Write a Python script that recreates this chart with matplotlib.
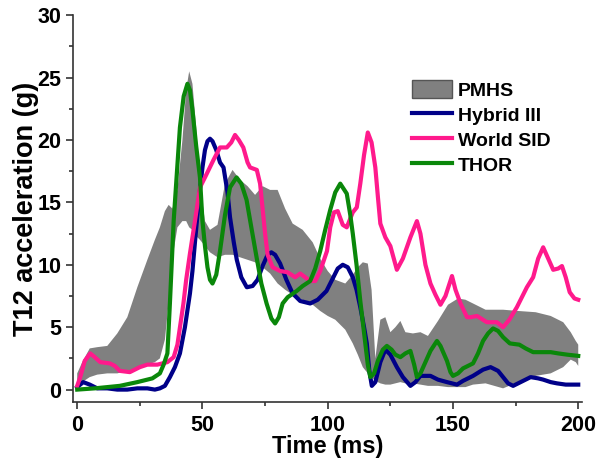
import numpy as np
import matplotlib
matplotlib.use("Agg")
import matplotlib.pyplot as plt
from matplotlib.ticker import MultipleLocator

plt.rcParams['font.family'] = ['Liberation Sans', 'DejaVu Sans']
plt.rcParams['font.weight'] = 'bold'

# PMHS corridor (upper / lower bound of the gray band)
pmhs_t = [0, 2, 5, 8, 12, 16, 20, 24, 28, 31, 33, 35, 36.5, 38, 40, 42, 43.5, 44.7,
          46, 47.5, 49, 51, 53, 56, 59, 62, 65, 68, 71, 74, 77, 80, 83, 86, 90, 94,
          97, 100, 103, 107, 110, 112, 114, 116, 117.5, 119, 121, 123, 125, 127, 129,
          131, 134, 137, 140, 144, 148, 152, 155, 158, 163, 170, 176, 183, 189, 194,
          197, 199, 200]
pmhs_upper = [1.3, 2.2, 3.3, 3.4, 3.5, 4.5, 5.8, 8.2, 10.4, 12.0, 13.0, 14.3, 14.8, 14.5,
              16.0, 20.0, 24.0, 25.5, 24.5, 21.0, 16.5, 13.5, 12.8, 13.2, 16.5, 17.6,
              16.8, 16.3, 15.6, 16.3, 16.0, 16.0, 14.5, 13.3, 12.8, 11.8, 10.5, 9.5,
              8.8, 8.5, 9.2, 9.8, 10.2, 10.1, 8.0, 2.5, 5.6, 5.8, 4.6, 5.0, 5.5, 4.6,
              4.5, 4.6, 4.3, 5.5, 6.8, 7.3, 7.2, 6.9, 6.4, 6.4, 6.3, 6.2, 5.9, 5.4,
              4.6, 3.9, 3.6]
pmhs_lower = [0.2, 0.6, 1.0, 1.2, 1.3, 1.3, 1.5, 1.7, 2.0, 2.2, 2.5, 4.0, 7.0, 10.5,
              13.0, 13.5, 13.5, 13.0, 12.8, 12.3, 12.0, 11.5, 11.0, 10.6, 10.8, 10.8,
              10.6, 10.4, 10.2, 9.8, 9.3, 8.5, 8.0, 7.6, 7.2, 6.8, 6.3, 5.9, 5.6, 4.8,
              3.7, 2.8, 1.8, 1.3, 1.0, 0.7, 0.5, 0.4, 0.4, 0.5, 0.6, 0.5, 0.5, 0.4,
              0.3, 0.3, 0.2, 0.2, 0.2, 0.4, 0.5, 0.1, 0.6, 1.1, 1.3, 1.8, 2.4, 2.2, 1.9]

# Hybrid III
h3_t = [0, 2.4, 5, 8, 12, 16, 20, 24, 28, 31, 33, 35, 37, 39, 41, 43, 45, 46, 47, 48,
        49, 50, 51, 52, 53, 54, 55.5, 57, 58.4, 60, 61, 62.5, 63.7, 65.5, 67.7, 70, 72,
        74, 76, 77.5, 79, 81, 83.5, 86, 89, 93, 96, 99.5, 102, 104, 106, 108, 110,
        111.5, 113, 114.5, 115.6, 116.6, 117.6, 119, 121, 123, 125, 127.6, 130, 133,
        135, 137, 141, 144, 147.6, 151.6, 154, 158, 162, 165, 168, 170, 172, 174,
        177, 181, 184, 186, 189, 191.5, 195, 200]
h3_g = [0.2, 0.6, 0.4, 0.1, 0.1, 0.0, 0.0, 0.1, 0.1, 0.0, 0.1, 0.3, 1.0, 1.8, 2.9,
        5.0, 7.7, 9.5, 11.8, 14.0, 16.0, 17.8, 19.2, 19.9, 20.1, 19.9, 19.2, 18.2,
        17.8, 15.8, 13.8, 11.8, 10.4, 9.0, 8.2, 8.3, 8.8, 9.9, 10.8, 11.0, 10.8,
        10.1, 8.8, 7.7, 7.1, 6.9, 7.2, 7.9, 8.9, 9.7, 10.0, 9.8, 9.0, 8.0, 6.6, 5.0,
        3.7, 1.5, 0.3, 0.6, 2.2, 3.2, 2.8, 1.8, 1.0, 0.3, 0.6, 1.1, 1.1, 0.8, 0.6,
        0.4, 0.7, 1.1, 1.6, 1.8, 1.5, 1.0, 0.5, 0.3, 0.6, 1.0, 0.9, 0.8, 0.6, 0.5,
        0.4, 0.4]

# World SID
wsid_t = [0, 1.2, 3, 5.2, 7, 9.2, 13, 15, 17, 21, 25, 28, 32, 36, 38.5, 40, 42.4,
          43.5, 45, 47, 49, 51, 54.4, 57, 59.7, 61.5, 63, 64.5, 66.3, 68, 69, 71.7,
          73, 74, 75, 76, 78, 81, 84, 87, 89, 91, 93, 95, 97, 99.7, 101, 102.5, 104,
          106, 107.6, 110, 111.6, 113, 114.5, 116, 117.5, 119, 120, 121, 123, 125,
          127.6, 130, 133, 135.6, 137, 139, 141, 143, 145, 147, 149.6, 151, 153,
          155.6, 157, 159.6, 163.5, 167.5, 170, 172.5, 175.5, 179.5, 182, 184, 186,
          188, 190, 192, 193.5, 195, 196.6, 198.5, 200]
wsid_g = [0.3, 1.0, 2.3, 2.9, 2.6, 2.2, 2.1, 1.9, 1.5, 1.4, 1.8, 2.0, 2.0, 2.2, 2.6,
          3.6, 6.9, 8.8, 10.9, 13.5, 16.2, 17.0, 18.4, 19.4, 19.4, 19.8, 20.4, 20.0,
          19.4, 18.2, 17.8, 17.6, 16.5, 14.5, 12.5, 10.8, 9.8, 9.5, 9.4, 9.0, 9.3,
          9.0, 8.7, 8.7, 9.5, 11.1, 13.0, 14.2, 14.3, 13.2, 13.0, 14.2, 14.6, 16.5,
          18.8, 20.6, 19.8, 17.8, 15.5, 13.3, 12.2, 11.5, 9.6, 10.5, 12.2, 13.5, 12.5,
          10.0, 8.5, 7.6, 6.8, 7.5, 9.1, 8.0, 6.9, 5.8, 5.8, 5.9, 5.4, 5.4, 5.0, 5.6,
          6.6, 8.2, 9.0, 10.5, 11.4, 10.5, 9.6, 9.7, 9.9, 9.0, 7.8, 7.3, 7.2]

# THOR
thor_t = [0, 7, 12, 17, 24, 30, 33, 34.5, 36, 37, 38.5, 40, 41, 42.5, 44, 45, 46,
          47.5, 49, 50, 51, 52, 53, 54, 55.5, 57, 59, 61, 63.6, 65.5, 67.6, 69.5,
          71.6, 73.5, 75.6, 77.5, 79, 80.5, 82, 84, 87.6, 90, 93, 95, 97, 99, 101,
          103, 105, 107.6, 109, 110, 111.5, 113, 115, 116, 117, 118.5, 120, 122,
          123.6, 125.5, 127, 129, 131, 133, 134.5, 135.6, 137, 139, 141, 143.6, 145,
          147.6, 149, 150, 152, 154, 156, 158, 160, 162, 164, 166, 168, 170, 172.7,
          176.5, 179, 182, 186, 189, 192, 195.6, 200]
thor_g = [0.0, 0.1, 0.2, 0.3, 0.6, 0.9, 1.3, 2.0, 2.9, 6.9, 13.5, 18.0, 21.0, 23.5,
          24.5, 24.0, 22.4, 19.5, 17.0, 13.5, 11.5, 9.8, 8.8, 8.5, 9.2, 11.1, 14.0,
          16.2, 17.0, 16.5, 15.2, 13.0, 10.6, 8.5, 6.9, 5.7, 5.3, 5.8, 6.9, 7.4, 7.9,
          8.3, 8.7, 9.7, 11.1, 12.8, 14.4, 15.8, 16.5, 15.7, 14.0, 12.5, 10.0, 7.1,
          3.7, 2.0, 1.0, 1.3, 2.3, 3.2, 3.5, 3.2, 2.8, 2.6, 2.9, 3.1, 2.0, 1.0, 1.3,
          2.2, 3.1, 3.9, 3.5, 2.3, 1.4, 1.1, 1.3, 1.7, 1.9, 2.1, 2.9, 3.9, 4.5, 4.9,
          4.7, 4.2, 3.7, 3.6, 3.3, 3.0, 3.0, 3.0, 2.9, 2.8, 2.7]

fig = plt.figure(figsize=(6, 4.59), dpi=100)
ax = fig.add_axes([0.122, 0.124, 0.848, 0.843])

ax.fill_between(pmhs_t, pmhs_lower, pmhs_upper, facecolor='#808080',
                edgecolor='none', label='PMHS', zorder=1)
ax.plot(h3_t, h3_g, color='#000088', lw=3, solid_joinstyle='round', label='Hybrid III', zorder=2)
ax.plot(wsid_t, wsid_g, color='#ff1a8c', lw=3, solid_joinstyle='round', label='World SID', zorder=3)
ax.plot(thor_t, thor_g, color='#0a870a', lw=3, solid_joinstyle='round', label='THOR', zorder=4)

ax.set_xlim(-1.6, 201.5)
ax.set_ylim(-1.0, 30)
ax.xaxis.set_major_locator(MultipleLocator(50))
ax.xaxis.set_minor_locator(MultipleLocator(25))
ax.yaxis.set_major_locator(MultipleLocator(5))
ax.yaxis.set_minor_locator(MultipleLocator(2.5))

for side in ['top', 'right']:
    ax.spines[side].set_visible(False)
for side in ['left', 'bottom']:
    ax.spines[side].set_color('#333333')
    ax.spines[side].set_linewidth(1.2)

ax.tick_params(which='major', direction='out', length=5, width=1.2, color='#333333',
               labelsize=15.5)
ax.tick_params(axis='x', which='major', pad=4.5)
ax.tick_params(which='minor', direction='out', length=3, width=1.2, color='#333333')
for lbl in ax.get_xticklabels() + ax.get_yticklabels():
    lbl.set_fontweight('bold')

ax.set_xlabel('Time (ms)', fontsize=17, fontweight='bold', labelpad=-1)
ax.set_ylabel('T12 acceleration (g)', fontsize=19.5, fontweight='bold', labelpad=-1)

leg = ax.legend(loc='upper left', bbox_to_anchor=(0.665, 0.832), frameon=False,
                fontsize=14, borderpad=0, borderaxespad=0, handlelength=2.1,
                handleheight=1.0, handletextpad=0.3, labelspacing=0.3)
leg.legend_handles[0].set_edgecolor('#555555')
leg.legend_handles[0].set_linewidth(1.0)
for txt in leg.get_texts():
    txt.set_fontweight('bold')

fig.savefig('out.png', dpi=100)
